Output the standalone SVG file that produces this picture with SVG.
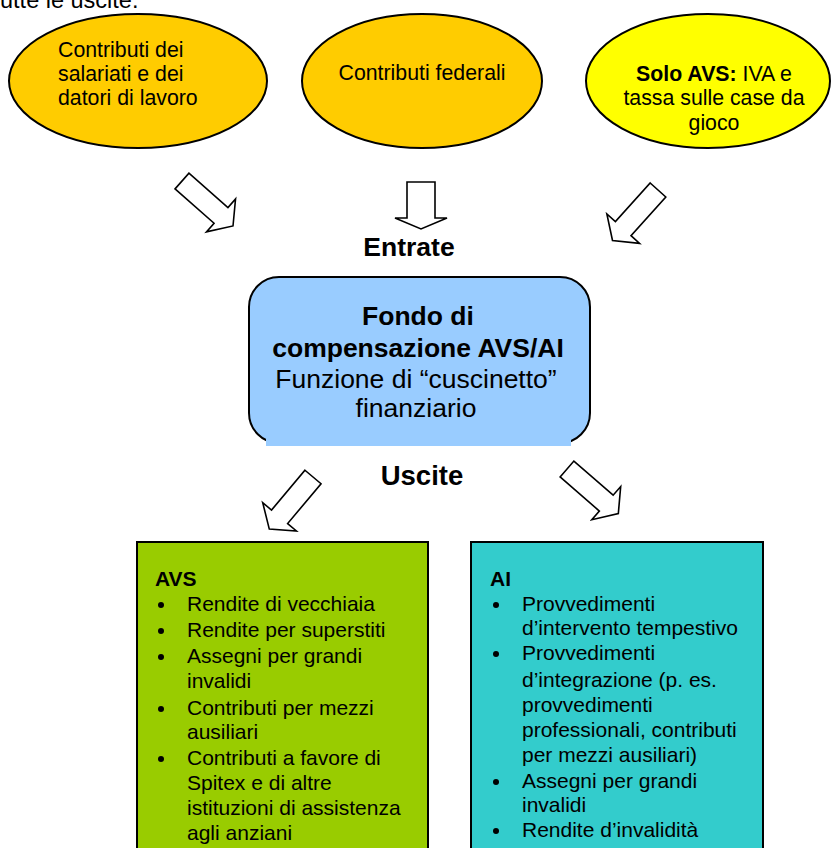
<svg xmlns="http://www.w3.org/2000/svg" width="831" height="848" viewBox="0 0 831 848">
<style>
text{font-family:"Liberation Sans",Arial,sans-serif;fill:#000}
.t20{font-size:21.3px}
.t26{font-size:26.5px}
.t19{font-size:21px}
.b{font-weight:bold}
.mid{text-anchor:middle}
.shape{stroke:#000;stroke-width:2}
.arrow{fill:#fff;stroke:#000;stroke-width:1.6;stroke-linejoin:miter}
</style>
<defs>
<path id="arr" d="M-10.5,0 H10.5 V52 H22 L0,68 L-22,52 H-10.5 Z"/>
<circle id="dot" r="3" fill="#000"/>
</defs>
<rect width="831" height="848" fill="#fff"/>
<text x="0" y="8" style="font-size:23.5px">utte le uscite.</text>

<g id="node-contributi-salariati">
<ellipse class="shape" cx="138" cy="81" rx="129" ry="67" fill="#FFCC00"/>
<text class="t20" x="58" y="57">Contributi dei</text>
<text class="t20" x="58" y="81">salariati e dei</text>
<text class="t20" x="58" y="105">datori di lavoro</text>
</g>

<g id="node-contributi-federali">
<ellipse class="shape" cx="422" cy="81" rx="120" ry="67" fill="#FFCC00"/>
<text class="t20 mid" x="422" y="80">Contributi federali</text>
</g>

<g id="node-solo-avs">
<ellipse class="shape" cx="708" cy="81" rx="122" ry="67" fill="#FFFF00"/>
<text class="t20 mid" x="714" y="81"><tspan class="b">Solo AVS:</tspan> IVA e</text>
<text class="t20 mid" x="714" y="105">tassa sulle case da</text>
<text class="t20 mid" x="714" y="130">gioco</text>
</g>

<g id="connectors">
<use href="#arr" class="arrow" transform="translate(182,181) rotate(-48.6)"/>
<path class="arrow" d="M-14,0 H14 V36 H26 L0,47 L-26,36 H-14 Z" transform="translate(421,182)"/>
<use href="#arr" class="arrow" transform="translate(658,190) rotate(42)"/>
<use href="#arr" class="arrow" transform="translate(313,477) rotate(40)"/>
<use href="#arr" class="arrow" transform="translate(567,469) rotate(-49)"/>
</g>

<g id="label-entrate">
<text class="t26 b mid" x="409" y="256">Entrate</text>
</g>

<g id="node-fondo">
<rect class="shape" x="249" y="277" width="341" height="166" rx="30" fill="#99CCFF"/>
<rect x="266" y="434" width="305" height="12" fill="#99CCFF"/>
<text class="t26 b mid" x="418" y="325">Fondo di</text>
<text class="t26 b mid" x="418" y="357">compensazione AVS/AI</text>
<text class="t26 mid" x="416" y="388">Funzione di “cuscinetto”</text>
<text class="t26 mid" x="416" y="417">finanziario</text>
</g>

<g id="label-uscite">
<text class="t26 b mid" x="422" y="485" style="font-size:27.5px">Uscite</text>
</g>

<g id="node-avs">
<rect class="shape" x="137" y="542" width="291" height="320" fill="#99CC00"/>
<text class="t19 b" x="155" y="586">AVS</text>
<use href="#dot" x="161" y="605"/>
<text class="t19" x="187" y="611">Rendite di vecchiaia</text>
<use href="#dot" x="161" y="631"/>
<text class="t19" x="187" y="637">Rendite per superstiti</text>
<use href="#dot" x="161" y="657"/>
<text class="t19" x="187" y="663">Assegni per grandi</text>
<text class="t19" x="187" y="688">invalidi</text>
<use href="#dot" x="161" y="709"/>
<text class="t19" x="187" y="715">Contributi per mezzi</text>
<text class="t19" x="187" y="739">ausiliari</text>
<use href="#dot" x="161" y="759"/>
<text class="t19" x="187" y="765">Contributi a favore di</text>
<text class="t19" x="187" y="790">Spitex e di altre</text>
<text class="t19" x="187" y="815">istituzioni di assistenza</text>
<text class="t19" x="187" y="840">agli anziani</text>
</g>

<g id="node-ai">
<rect class="shape" x="471" y="542" width="292" height="320" fill="#33CCCC"/>
<text class="t19 b" x="490" y="586">AI</text>
<use href="#dot" x="496" y="605"/>
<text class="t19" x="522" y="611">Provvedimenti</text>
<text class="t19" x="522" y="635">d’intervento tempestivo</text>
<use href="#dot" x="496" y="654"/>
<text class="t19" x="522" y="660">Provvedimenti</text>
<text class="t19" x="522" y="687">d’integrazione (p. es.</text>
<text class="t19" x="522" y="712">provvedimenti</text>
<text class="t19" x="522" y="737">professionali, contributi</text>
<text class="t19" x="522" y="762">per mezzi ausiliari)</text>
<use href="#dot" x="496" y="782"/>
<text class="t19" x="522" y="788">Assegni per grandi</text>
<text class="t19" x="522" y="812">invalidi</text>
<use href="#dot" x="496" y="831"/>
<text class="t19" x="522" y="837">Rendite d’invalidità</text>
</g>
</svg>
